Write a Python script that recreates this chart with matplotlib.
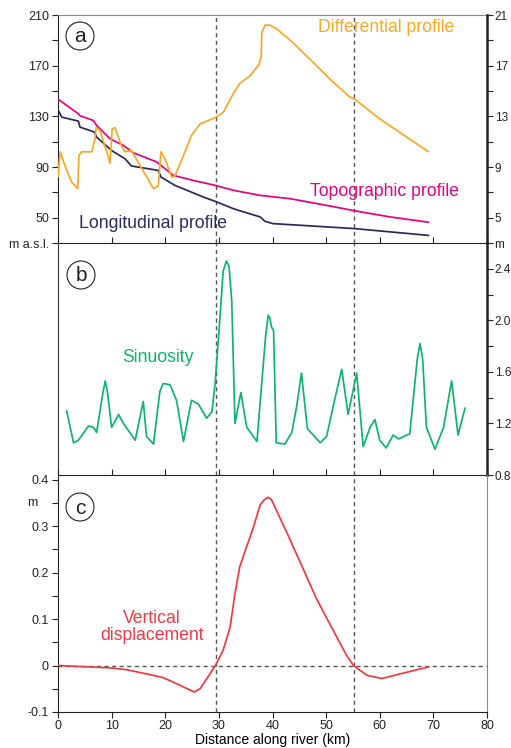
import numpy as np
import matplotlib
matplotlib.use("Agg")
import matplotlib.pyplot as plt
from matplotlib.patches import Ellipse

plt.rcParams['font.family'] = ['Liberation Sans', 'DejaVu Sans']

# differential profile (right axis of a, m)
diff_km = [0, 0.4, 1.3, 2.55, 3.67, 3.9, 4.4, 6.3, 6.9, 7.1, 7.8, 9.1, 9.7, 10.1, 10.6,
           11.9, 12.5, 13.7, 15.6, 17.8, 18.7, 19.2, 19.95, 21.2, 21.8, 23.4, 24.9, 26.5,
           29.3, 30.8, 32.7, 33.9, 35.8, 37.5, 37.9, 38.0, 38.6, 39.5, 40.8, 43.6, 47.0,
           51.3, 54.5, 55.2, 60.0, 69.1]
diff_m = [8.2, 10.2, 9.1, 7.8, 7.3, 9.9, 10.2, 10.2, 11.2, 12.1, 11.9, 10.2, 9.3, 12.0, 12.1,
          10.6, 10.2, 10.3, 8.9, 7.3, 7.5, 10.2, 9.65, 8.2, 8.3, 9.9, 11.5, 12.4,
          12.9, 13.3, 14.8, 15.6, 16.2, 17.1, 17.8, 19.6, 20.2, 20.2, 19.9, 18.9, 17.5,
          15.7, 14.5, 14.4, 12.8, 10.2]

# topographic profile (m a.s.l.)
topo_km = [0, 3.8, 4.1, 6.6, 7.2, 9.7, 12.2, 14.0, 18.4, 21.5, 25.2, 29.3, 32.7, 37.7,
           43.3, 52.6, 55.2, 61.9, 69.1]
topo_m = [143.6, 132, 130.5, 126.7, 122.8, 112.3, 107, 101.3, 94, 83.4, 79.4, 75.5, 71.6, 67.6,
          65, 57.7, 55.5, 50.6, 46.4]

# longitudinal profile (m a.s.l.)
long_km = [0, 0.06, 0.7, 3.8, 4.1, 6.8, 7.2, 10.0, 12.5, 13.7, 18.7, 19.2, 21.8, 27.1,
           29.3, 32.7, 35.8, 37.7, 38.6, 40.1, 55.2, 69.1]
long_m = [136, 134.6, 129.4, 126.2, 121.5, 117.6, 113.6, 103, 96.5, 90.8, 87.3, 82.1, 75.5, 66.3,
          62.9, 57.1, 53, 50.6, 47.1, 45.3, 41.4, 36]

# sinuosity
sin_km = [1.6, 2.9, 3.8, 5.7, 6.6, 7.2, 8.3, 8.8, 9.2, 10.0, 11.3, 12.2, 14.4, 15.9, 16.5,
          17.8, 19.0, 19.6, 20.9, 22.1, 23.4, 24.9, 26.2, 27.7, 28.7, 29.3, 30.2, 30.8, 31.4,
          31.9, 32.4, 33.0, 34.1, 35.2, 37.1, 38.7, 39.2, 39.5, 39.8, 40.2, 40.7, 42.3, 43.6,
          44.5, 45.4, 46.5, 47.6, 48.9, 50.1, 51.3, 52.9, 54.1, 55.7, 56.9, 58.2, 59.1, 60.0,
          61.2, 62.5, 63.5, 65.6, 67.0, 67.5, 68.0, 68.7, 70.3, 71.9, 73.4, 74.6, 75.9]
sin_val = [1.30, 1.05, 1.07, 1.18, 1.17, 1.13, 1.42, 1.53, 1.45, 1.17, 1.27, 1.20, 1.07, 1.37, 1.10,
           1.04, 1.45, 1.51, 1.50, 1.38, 1.06, 1.38, 1.35, 1.24, 1.29, 1.51, 2.02, 2.38, 2.46,
           2.42, 2.15, 1.20, 1.44, 1.17, 1.06, 1.87, 2.04, 2.02, 1.95, 1.92, 1.05, 1.04, 1.13,
           1.33, 1.59, 1.16, 1.11, 1.05, 1.10, 1.33, 1.62, 1.27, 1.59, 1.02, 1.17, 1.23, 1.07,
           1.01, 1.11, 1.08, 1.12, 1.70, 1.82, 1.70, 1.17, 1.00, 1.17, 1.53, 1.11, 1.32]

# vertical displacement (m)
vd_km = [0, 9.7, 12.8, 16.5, 19.6, 22.1, 25.4, 26.5, 29.3, 30.8, 32.1, 33.0, 33.9, 36.4,
         37.7, 38.5, 39.2, 39.8, 42.6, 45.1, 48.2, 51.3, 53.8, 55.1, 57.6, 60.4, 63.8, 69.1]
vd_m = [0, -0.005, -0.009, -0.018, -0.026, -0.039, -0.057, -0.050, -0.001, 0.033, 0.083, 0.155,
        0.213, 0.296, 0.346, 0.357, 0.362, 0.357, 0.288, 0.224, 0.144, 0.076, 0.022, 0.0, -0.021,
        -0.028, -0.018, -0.003]

faults = [29.4, 55.2]

c_orange = '#F6A828'
c_mag = '#E4007F'
c_navy = '#282A5A'
c_green = '#10B36D'
c_red = '#EE3A44'
c_dash = '#555555'

W, H = 511, 748
fig = plt.figure(figsize=(W / 100, H / 100), dpi=100)
left, right = 58 / W, 487 / W

def fbox(top_px, bot_px):
    return [left, 1 - bot_px / H, right - left, (bot_px - top_px) / H]

axa = fig.add_axes(fbox(15, 243))
axb = fig.add_axes(fbox(243, 475))
axc = fig.add_axes(fbox(475, 712))

for ax in (axa, axb, axc):
    ax.set_xlim(0, 80)
    ax.patch.set_alpha(0)
    for x in faults:
        ax.axvline(x, color=c_dash, lw=1.0, ls=(0, (3, 2.5)), zorder=1)
    ax.tick_params(labelsize=9, colors='#222222', length=4, width=0.8, pad=2.5)

lkw = dict(lw=1.25, solid_joinstyle='round', solid_capstyle='round', zorder=3)

# ---- panel a
axa.plot(topo_km, topo_m, color=c_mag, **lkw)
axa.plot(long_km, long_m, color=c_navy, **lkw)
axa.set_ylim(30, 210)
yt = np.arange(30, 211, 20)
axa.set_yticks(yt)
axa.set_yticklabels(['m a.s.l.' if v == 30 else (str(v) if (v - 50) % 40 == 0 else '') for v in yt])
axa.set_xticks([])
axa.spines['top'].set_color('#8a8a8a')
axa.spines['left'].set_color('#222222')
axa.spines['bottom'].set_color('#222222')
axa.spines['right'].set_visible(False)

axa2 = axa.twinx()
axa2.set_xlim(0, 80)
axa2.plot(diff_km, diff_m, color=c_orange, **lkw)
axa2.set_ylim(3, 21)
yt2 = np.arange(3, 22, 2)
axa2.set_yticks(yt2)
axa2.set_yticklabels(['m' if v == 3 else (str(v) if (v - 5) % 4 == 0 else '') for v in yt2])
axa2.tick_params(labelsize=8.5, colors='#222222', length=4, width=0.8, pad=1.5)
for s in ('top', 'left', 'bottom'):
    axa2.spines[s].set_visible(False)
axa2.spines['right'].set_color('#222222')
axa2.spines['right'].set_linewidth(1.8)

fig.text(318 / W, 1 - 27 / H, 'Differential profile', color=c_orange, fontsize=12.7, va='center')
fig.text(310 / W, 1 - 192 / H, 'Topographic profile', color=c_mag, fontsize=12.7, va='center')
fig.text(79 / W, 1 - 224 / H, 'Longitudinal profile', color=c_navy, fontsize=12.7, va='center')

# ---- panel b
axb.plot(sin_km, sin_val, color=c_green, **lkw)
axb.set_ylim(0.8, 2.6)
axb.yaxis.tick_right()
ytb = np.round(np.arange(0.8, 2.41, 0.2), 1)
axb.set_yticks(ytb)
axb.set_yticklabels([f'{v:.1f}' if round((v - 0.8) / 0.4, 3) % 1 == 0 else '' for v in ytb])
axb.tick_params(axis='y', labelsize=8.5, pad=1.5)
axb.set_xticks(np.arange(0, 81, 10))
axb.tick_params(axis='x', top=True, bottom=False, labeltop=False, labelbottom=False,
                direction='out')
axb.spines['right'].set_color('#222222')
axb.spines['right'].set_linewidth(1.8)
axb.spines['left'].set_color('#333333')
axb.spines['top'].set_visible(False)
axb.spines['bottom'].set_color('#222222')
fig.text(122 / W, 1 - 357 / H, 'Sinuosity', color=c_green, fontsize=12.7, va='center')

# ---- panel c
axc.plot(vd_km, vd_m, color=c_red, **lkw)
axc.axhline(0, color=c_dash, lw=1.0, ls=(0, (3, 2.5)), zorder=1)
axc.set_ylim(-0.1, 0.41)
ytc = np.round(np.arange(-0.1, 0.401, 0.05), 2)
axc.set_yticks(ytc)
labs = []
for v in ytc:
    if abs(v) < 1e-9:
        labs.append('0')
    elif round(v * 20) % 2 == 0:
        labs.append(f'{v:.1f}')
    else:
        labs.append('')
axc.set_yticklabels(labs)
axc.set_xticks(np.arange(0, 81, 10))
axc.tick_params(axis='x', top=True, bottom=True, direction='out', pad=1.5)
axc.set_xlabel('Distance along river (km)', fontsize=10, labelpad=1)
axc.spines['right'].set_color('#8a8a8a')
axc.spines['top'].set_visible(False)
axc.spines['left'].set_color('#222222')
axc.spines['bottom'].set_color('#222222')
fig.text(32 / W, 1 - 503 / H, 'm', fontsize=9, ha='center', va='center', color='#222222')
fig.text(152 / W, 1 - 627 / H, 'Vertical\ndisplacement', color=c_red, fontsize=12.7,
         ha='center', va='center', linespacing=0.95)

# circled panel letters
for (cx, cy, lab) in [(80, 36, 'a'), (81, 275, 'b'), (80, 507, 'c')]:
    fig.patches.append(Ellipse((cx / W, 1 - cy / H), 28 / W, 28 / H, transform=fig.transFigure,
                               fill=False, ec='#222222', lw=0.8))
    fig.text(cx / W, 1 - (cy + 1) / H, lab, fontsize=15, ha='center', va='center', color='#222222')

fig.savefig('out.png', dpi=100)
